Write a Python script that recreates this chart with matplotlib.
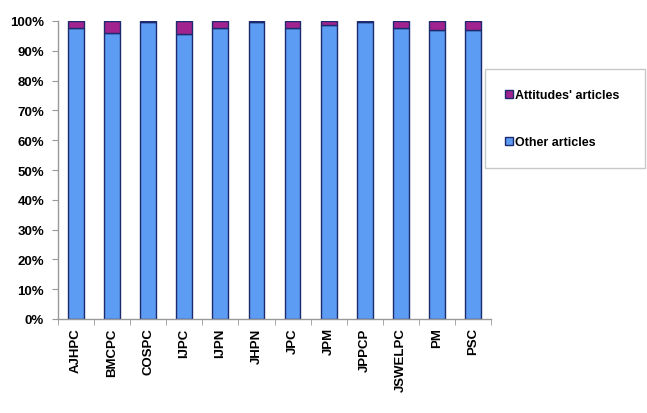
import matplotlib
matplotlib.use("Agg")
import matplotlib.pyplot as plt
from matplotlib.ticker import PercentFormatter, FixedLocator
from matplotlib.patches import Patch

categories = ["AJHPC", "BMCPC", "COSPC", "IJPC", "IJPN", "JHPN", "JPC", "JPM",
              "JPPCP", "JSWELPC", "PM", "PSC"]
attitudes = [2.5, 4.0, 0.5, 4.5, 2.5, 0.2, 2.5, 1.5, 0.5, 2.5, 3.0, 3.0]
other = [100 - a for a in attitudes]

blue = "#5C9CF2"
magenta = "#A0238F"
edge = "#1E2A6E"

plt.rcParams['font.family'] = ['Liberation Sans', 'DejaVu Sans']
fig = plt.figure(figsize=(6.47, 4.14), dpi=100)
ax = fig.add_axes([58/647, 1 - 320/414, (491-58)/647, (320-22)/414])

x = list(range(len(categories)))
ax.bar(x, other, width=0.44, color=blue, edgecolor=edge, linewidth=1.0, zorder=2)
ax.bar(x, attitudes, bottom=other, width=0.44, color=magenta, edgecolor=edge,
       linewidth=1.0, zorder=2)

ax.set_xlim(-0.5, len(categories) - 0.5)
ax.set_ylim(0, 100)
ax.set_yticks(range(0, 101, 10))
ax.yaxis.set_major_formatter(PercentFormatter(decimals=0))
ax.set_xticks(x)
ax.set_xticklabels(categories, rotation=90, fontweight='bold', fontsize=9.5)
ax.xaxis.set_minor_locator(FixedLocator([i - 0.5 for i in range(len(categories) + 1)]))
ax.tick_params(axis='x', which='major', length=0, pad=6)
ax.tick_params(axis='x', which='minor', length=4, color='#999999', direction='out')
ax.tick_params(axis='y', length=4, color='#999999', labelsize=9.5, pad=6)
for lab in ax.get_yticklabels():
    lab.set_fontweight('bold')
for s in ['top', 'right']:
    ax.spines[s].set_visible(False)
for s in ['left', 'bottom']:
    ax.spines[s].set_color('#999999')
    ax.spines[s].set_linewidth(1.0)

handles = [Patch(facecolor=magenta, edgecolor=edge, label="Attitudes' articles"),
           Patch(facecolor=blue, edgecolor=edge, label="Other articles")]
leg = fig.legend(handles=handles, loc='upper left',
                 bbox_to_anchor=(485/647, 1 - 168/414, 160/647, 98/414),
                 mode='expand', fancybox=False,
                 frameon=True, edgecolor='#bbbbbb', handlelength=0.6,
                 handleheight=0.6, handletextpad=0.2, labelspacing=2.8,
                 borderpad=1.6, borderaxespad=0, prop={'weight': 'bold', 'size': 9})
leg.get_frame().set_linewidth(1.0)

fig.savefig("out.png", dpi=100)
